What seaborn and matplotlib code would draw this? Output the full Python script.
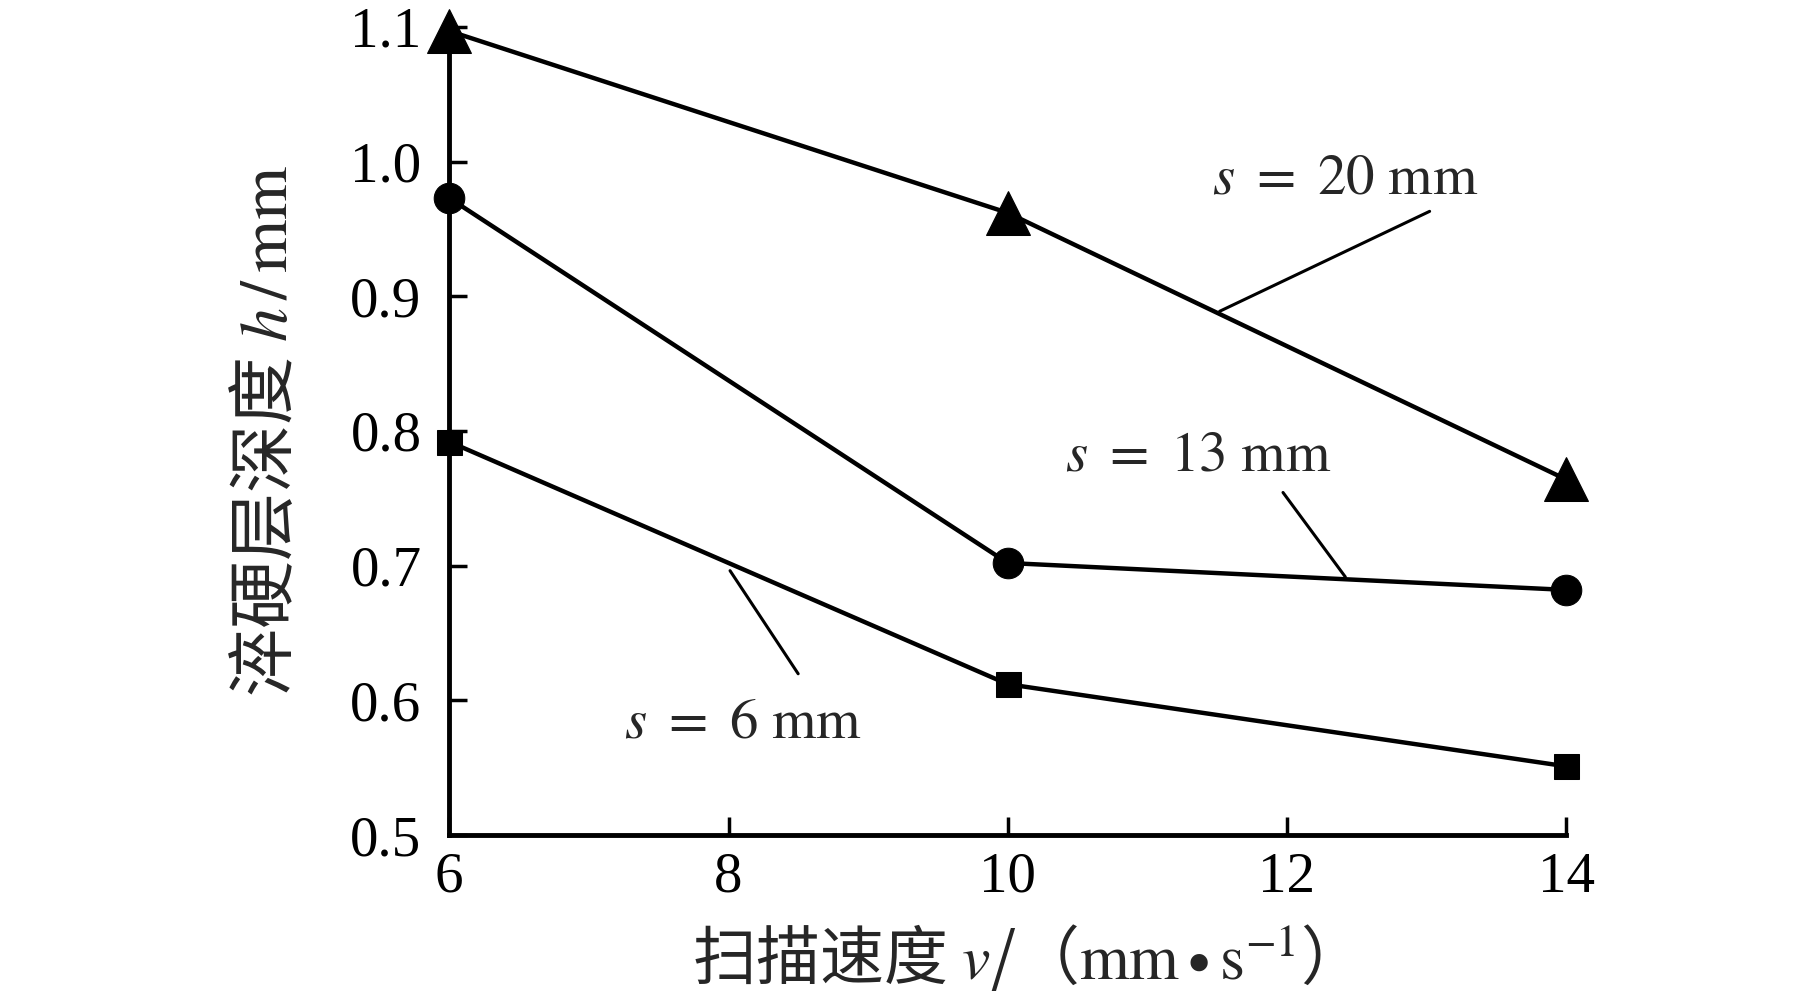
import numpy as np
import pandas as pd
import matplotlib
matplotlib.use('Agg')
import matplotlib.pyplot as plt
import seaborn as sns

# ==========================================
# 1. DATA
# ==========================================
speed = [6, 10, 14]                 # scan speed v (mm/s)
depth_s20 = [1.097, 0.962, 0.764]   # s = 20 mm
depth_s13 = [0.973, 0.702, 0.682]   # s = 13 mm
depth_s6 = [0.792, 0.612, 0.551]    # s = 6 mm

x_ticks = [6, 8, 10, 12, 14]
y_ticks = [0.5, 0.6, 0.7, 0.8, 0.9, 1.0, 1.1]

series_labels = [r'$s\ =\ \mathrm{20\ mm}$', r'$s\ =\ \mathrm{13\ mm}$',
                 r'$s\ =\ \mathrm{6\ mm}$']

# ==========================================
# 2. STYLE
# ==========================================
sns.set_style('ticks')
plt.rcParams['font.family'] = ['Liberation Serif', 'Noto Sans CJK SC', 'DejaVu Sans']
plt.rcParams['mathtext.fontset'] = 'stix'
plt.rcParams['axes.unicode_minus'] = False

fig = plt.figure(figsize=(18.19, 10), dpi=100)
ax = fig.add_axes([0.247, 0.165, 0.614, 0.808])

# ==========================================
# 3. PLOT LINES
# ==========================================
series = [
    (depth_s20, '^', 31),
    (depth_s13, 'o', 22),
    (depth_s6, 's', 18),
]
for values, mk, ms in series:
    df = pd.DataFrame({'v': speed, 'h': values})
    sns.lineplot(data=df, x='v', y='h', ax=ax, color='black', linewidth=3.2,
                 marker=mk, markersize=ms, markeredgecolor='black',
                 markerfacecolor='black', clip_on=False, zorder=3)

ax.set_xlim(6, 14)
ax.set_ylim(0.5, 1.1)
ax.set_xticks(x_ticks)
ax.set_yticks(y_ticks)
ax.set_yticklabels([f'{t:.1f}' for t in y_ticks])

sns.despine(ax=ax)
for sp in ['left', 'bottom']:
    ax.spines[sp].set_linewidth(3.5)
    ax.spines[sp].set_color('black')

ax.tick_params(direction='in', length=13, width=2.5, labelsize=41,
               colors='black')
ax.tick_params(axis='y', pad=20)
ax.tick_params(axis='x', pad=12)

# CJK text goes through mathtext's default font, so put the CJK family first
cjk = ['Noto Sans CJK SC', 'DejaVu Sans']
ax.set_xlabel(r'扫描速度 $v$/（$\mathrm{mm}\bullet\mathrm{s}^{-1}$）',
              fontsize=46, labelpad=14, family=cjk)
ax.set_ylabel(r'淬硬层深度 $h\,/\,\mathrm{mm}$', fontsize=49, labelpad=34,
              family=cjk)

# ==========================================
# 4. ANNOTATIONS (leader lines)
# ==========================================
text_pos = [(11.46, 0.987), (10.41, 0.781), (7.25, 0.583)]
leader_start = [(13.04, 0.964), (11.96, 0.756), (8.51, 0.618)]
leader_end = [(11.50, 0.888), (12.43, 0.690), (8.00, 0.698)]

for lab, tp, ls, le in zip(series_labels, text_pos, leader_start, leader_end):
    ax.text(tp[0], tp[1], lab, fontsize=41, ha='left', va='center')
    ax.annotate('', xy=le, xytext=ls,
                arrowprops=dict(arrowstyle='-', lw=2.2, color='black'))

plt.savefig('out.png', dpi=100)
